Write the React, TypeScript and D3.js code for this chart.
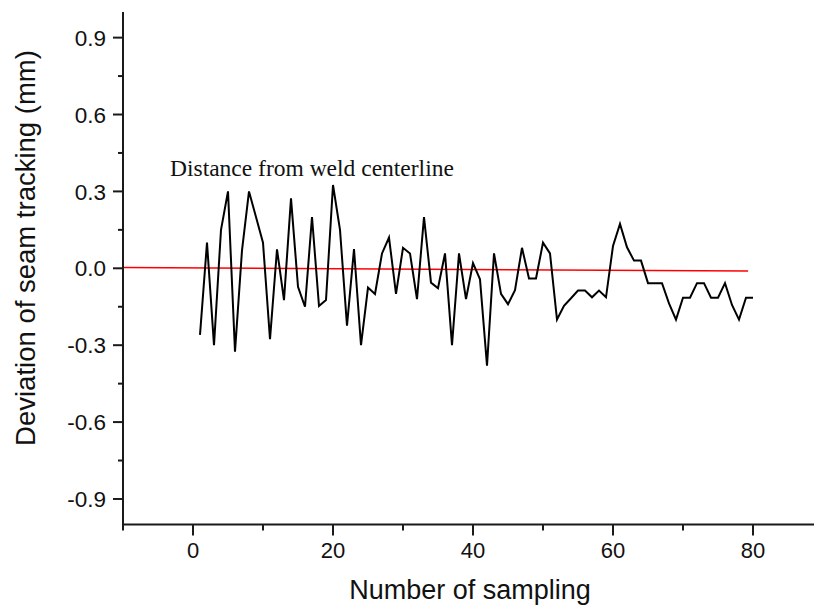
import React from "react";
import * as d3 from "d3";

const sampleIndex: number[] = Array.from({ length: 80 }, (_, i) => i + 1);
const deviation: number[] = [
  -0.26, 0.10, -0.30, 0.15, 0.30, -0.325, 0.07, 0.30, 0.20, 0.10,
  -0.277, 0.074, -0.124, 0.273, -0.072, -0.15, 0.20, -0.147, -0.124, 0.325,
  0.15, -0.224, 0.075, -0.30, -0.075, -0.10, 0.058, 0.12, -0.10, 0.08,
  0.058, -0.12, 0.20, -0.056, -0.078, 0.058, -0.30, 0.058, -0.12, 0.02,
  -0.043, -0.38, 0.058, -0.10, -0.14, -0.085, 0.08, -0.04, -0.04, 0.10,
  0.058, -0.20, -0.146, -0.117, -0.087, -0.087, -0.113, -0.087, -0.113, 0.087,
  0.173, 0.082, 0.03, 0.03, -0.058, -0.058, -0.058, -0.137, -0.20, -0.115,
  -0.115, -0.058, -0.058, -0.115, -0.115, -0.058, -0.143, -0.20, -0.115, -0.115,
];
const centerlineX: number[] = [-10, 79.3];
const centerlineY: number[] = [0.003, -0.0105];

const xMajorTicks: number[] = [0, 20, 40, 60, 80];
const xMinorTicks: number[] = [-10, 10, 30, 50, 70];
const yMajorTicks: number[] = [-0.9, -0.6, -0.3, 0.0, 0.3, 0.6, 0.9];
const yMinorTicks: number[] = [-0.75, -0.45, -0.15, 0.15, 0.45, 0.75];

const annotation = "Distance from weld centerline";
const xTitle = "Number of sampling";
const yTitle = "Deviation of seam tracking (mm)";

export default function App() {
  const W = 814;
  const H = 608;
  const left = 123;
  const top = 12;
  const bottom = 524.6;
  const x = d3.scaleLinear().domain([-10, 90]).range([left, left + 700]);
  const y = d3.scaleLinear().domain([-1, 1]).range([bottom, top]);

  const line = d3
    .line<number>()
    .x((_, i) => x(sampleIndex[i]))
    .y((d) => y(d));
  const redLine = d3
    .line<number>()
    .x((_, i) => x(centerlineX[i]))
    .y((d) => y(d));

  const fmt = (v: number) => d3.format(".1f")(v).replace("\u2212", "-");
  const sans = "'Liberation Sans', Arial, sans-serif";
  const axisColor = "#1a1a1a";

  return (
    <svg
      width={W}
      height={H}
      style={{ position: "absolute", left: 0, top: 0, background: "#fff" }}
    >
      <rect x={0} y={0} width={W} height={H} fill="#fff" />
      <path d={redLine(centerlineY) || ""} fill="none" stroke="#ff0000" strokeWidth={1.5} />
      <path
        d={line(deviation) || ""}
        fill="none"
        stroke="#000"
        strokeWidth={2}
        strokeLinejoin="miter"
      />
      {/* y axis */}
      <line x1={left} x2={left} y1={top} y2={bottom} stroke={axisColor} strokeWidth={2} />
      {yMajorTicks.map((t) => (
        <g key={"ym" + t}>
          <line x1={left - 10} x2={left} y1={y(t)} y2={y(t)} stroke={axisColor} strokeWidth={2} />
          <text
            x={left - 17}
            y={y(t)}
            dy="0.36em"
            textAnchor="end"
            fontFamily={sans}
            fontSize={22.5}
            fill="#111"
          >
            {fmt(t)}
          </text>
        </g>
      ))}
      {yMinorTicks.map((t) => (
        <line key={"yn" + t} x1={left - 5} x2={left} y1={y(t)} y2={y(t)} stroke={axisColor} strokeWidth={2} />
      ))}
      {/* x axis */}
      <line x1={left - 1} x2={W} y1={bottom} y2={bottom} stroke={axisColor} strokeWidth={2} />
      {xMajorTicks.map((t) => (
        <g key={"xm" + t}>
          <line x1={x(t)} x2={x(t)} y1={bottom} y2={bottom + 11} stroke={axisColor} strokeWidth={2} />
          <text
            x={x(t)}
            y={558}
            textAnchor="middle"
            fontFamily={sans}
            fontSize={22}
            fill="#111"
          >
            {t}
          </text>
        </g>
      ))}
      {xMinorTicks.map((t) => (
        <line key={"xn" + t} x1={x(t)} x2={x(t)} y1={bottom} y2={bottom + 6} stroke={axisColor} strokeWidth={2} />
      ))}
      {/* titles */}
      <text x={470} y={599} textAnchor="middle" fontFamily={sans} fontSize={27} fill="#111">
        {xTitle}
      </text>
      <text
        transform={`translate(35, 248) rotate(-90)`}
        textAnchor="middle"
        fontFamily={sans}
        fontSize={27.5}
        fill="#111"
      >
        {yTitle}
      </text>
      <text
        x={170}
        y={176}
        fontFamily="'Liberation Serif', 'Times New Roman', serif"
        fontSize={23.5}
        fill="#111"
      >
        {annotation}
      </text>
    </svg>
  );
}
